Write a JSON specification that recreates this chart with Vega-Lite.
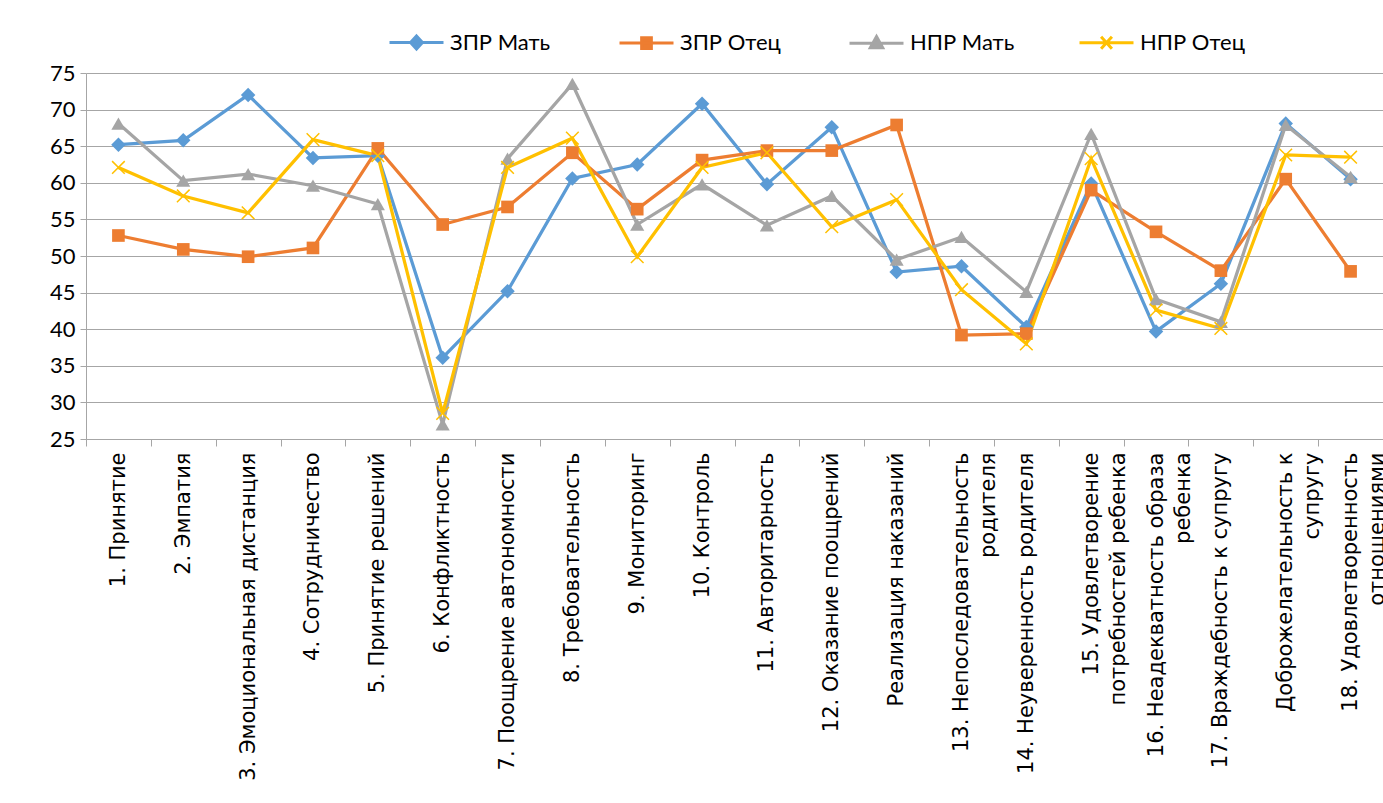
{
  "$schema": "https://vega.github.io/schema/vega-lite/v6.json",
  "width": 1297,
  "height": 366,
  "padding": {"left": 86, "top": 73, "right": 0, "bottom": 364},
  "autosize": {"type": "none"},
  "background": "white",
  "config": {"view": {"stroke": null}},
  "data": {"values": [
    {"cat": "1. Принятие", "series": "ЗПР Мать", "value": 65.2},
    {"cat": "2. Эмпатия", "series": "ЗПР Мать", "value": 65.8},
    {"cat": "3. Эмоциональная дистанция", "series": "ЗПР Мать", "value": 72.0},
    {"cat": "4. Сотрудничество", "series": "ЗПР Мать", "value": 63.4},
    {"cat": "5. Принятие решений", "series": "ЗПР Мать", "value": 63.7},
    {"cat": "6. Конфликтность", "series": "ЗПР Мать", "value": 36.1},
    {"cat": "7. Поощрение автономности", "series": "ЗПР Мать", "value": 45.2},
    {"cat": "8. Требовательность", "series": "ЗПР Мать", "value": 60.6},
    {"cat": "9. Мониторинг", "series": "ЗПР Мать", "value": 62.5},
    {"cat": "10. Контроль", "series": "ЗПР Мать", "value": 70.8},
    {"cat": "11. Авторитарность", "series": "ЗПР Мать", "value": 59.8},
    {"cat": "12. Оказание поощрений", "series": "ЗПР Мать", "value": 67.6},
    {"cat": "Реализация наказаний", "series": "ЗПР Мать", "value": 47.8},
    {"cat": "13. Непоследовательность\nродителя", "series": "ЗПР Мать", "value": 48.6},
    {"cat": "14. Неуверенность родителя", "series": "ЗПР Мать", "value": 40.3},
    {"cat": "15. Удовлетворение\nпотребностей ребенка", "series": "ЗПР Мать", "value": 59.9},
    {"cat": "16. Неадекватность образа\nребенка", "series": "ЗПР Мать", "value": 39.7},
    {"cat": "17. Враждебность к супругу", "series": "ЗПР Мать", "value": 46.2},
    {"cat": "Доброжелательность к\nсупругу", "series": "ЗПР Мать", "value": 68.1},
    {"cat": "18. Удовлетворенность\nотношениями", "series": "ЗПР Мать", "value": 60.5},

    {"cat": "1. Принятие", "series": "ЗПР Отец", "value": 52.8},
    {"cat": "2. Эмпатия", "series": "ЗПР Отец", "value": 50.9},
    {"cat": "3. Эмоциональная дистанция", "series": "ЗПР Отец", "value": 49.9},
    {"cat": "4. Сотрудничество", "series": "ЗПР Отец", "value": 51.1},
    {"cat": "5. Принятие решений", "series": "ЗПР Отец", "value": 64.7},
    {"cat": "6. Конфликтность", "series": "ЗПР Отец", "value": 54.3},
    {"cat": "7. Поощрение автономности", "series": "ЗПР Отец", "value": 56.7},
    {"cat": "8. Требовательность", "series": "ЗПР Отец", "value": 64.1},
    {"cat": "9. Мониторинг", "series": "ЗПР Отец", "value": 56.4},
    {"cat": "10. Контроль", "series": "ЗПР Отец", "value": 63.1},
    {"cat": "11. Авторитарность", "series": "ЗПР Отец", "value": 64.4},
    {"cat": "12. Оказание поощрений", "series": "ЗПР Отец", "value": 64.4},
    {"cat": "Реализация наказаний", "series": "ЗПР Отец", "value": 67.9},
    {"cat": "13. Непоследовательность\nродителя", "series": "ЗПР Отец", "value": 39.2},
    {"cat": "14. Неуверенность родителя", "series": "ЗПР Отец", "value": 39.4},
    {"cat": "15. Удовлетворение\nпотребностей ребенка", "series": "ЗПР Отец", "value": 59.0},
    {"cat": "16. Неадекватность образа\nребенка", "series": "ЗПР Отец", "value": 53.3},
    {"cat": "17. Враждебность к супругу", "series": "ЗПР Отец", "value": 48.0},
    {"cat": "Доброжелательность к\nсупругу", "series": "ЗПР Отец", "value": 60.5},
    {"cat": "18. Удовлетворенность\nотношениями", "series": "ЗПР Отец", "value": 47.9},

    {"cat": "1. Принятие", "series": "НПР Мать", "value": 68.1},
    {"cat": "2. Эмпатия", "series": "НПР Мать", "value": 60.3},
    {"cat": "3. Эмоциональная дистанция", "series": "НПР Мать", "value": 61.2},
    {"cat": "4. Сотрудничество", "series": "НПР Мать", "value": 59.6},
    {"cat": "5. Принятие решений", "series": "НПР Мать", "value": 57.1},
    {"cat": "6. Конфликтность", "series": "НПР Мать", "value": 27.0},
    {"cat": "7. Поощрение автономности", "series": "НПР Мать", "value": 63.3},
    {"cat": "8. Требовательность", "series": "НПР Мать", "value": 73.5},
    {"cat": "9. Мониторинг", "series": "НПР Мать", "value": 54.3},
    {"cat": "10. Контроль", "series": "НПР Мать", "value": 59.8},
    {"cat": "11. Авторитарность", "series": "НПР Мать", "value": 54.2},
    {"cat": "12. Оказание поощрений", "series": "НПР Мать", "value": 58.2},
    {"cat": "Реализация наказаний", "series": "НПР Мать", "value": 49.5},
    {"cat": "13. Непоследовательность\nродителя", "series": "НПР Мать", "value": 52.6},
    {"cat": "14. Неуверенность родителя", "series": "НПР Мать", "value": 45.1},
    {"cat": "15. Удовлетворение\nпотребностей ребенка", "series": "НПР Мать", "value": 66.7},
    {"cat": "16. Неадекватность образа\nребенка", "series": "НПР Мать", "value": 44.1},
    {"cat": "17. Враждебность к супругу", "series": "НПР Мать", "value": 41.0},
    {"cat": "Доброжелательность к\nсупругу", "series": "НПР Мать", "value": 67.9},
    {"cat": "18. Удовлетворенность\nотношениями", "series": "НПР Мать", "value": 60.8},

    {"cat": "1. Принятие", "series": "НПР Отец", "value": 62.1},
    {"cat": "2. Эмпатия", "series": "НПР Отец", "value": 58.2},
    {"cat": "3. Эмоциональная дистанция", "series": "НПР Отец", "value": 55.9},
    {"cat": "4. Сотрудничество", "series": "НПР Отец", "value": 65.9},
    {"cat": "5. Принятие решений", "series": "НПР Отец", "value": 63.7},
    {"cat": "6. Конфликтность", "series": "НПР Отец", "value": 28.5},
    {"cat": "7. Поощрение автономности", "series": "НПР Отец", "value": 62.1},
    {"cat": "8. Требовательность", "series": "НПР Отец", "value": 66.1},
    {"cat": "9. Мониторинг", "series": "НПР Отец", "value": 49.9},
    {"cat": "10. Контроль", "series": "НПР Отец", "value": 62.1},
    {"cat": "11. Авторитарность", "series": "НПР Отец", "value": 64.1},
    {"cat": "12. Оказание поощрений", "series": "НПР Отец", "value": 54.0},
    {"cat": "Реализация наказаний", "series": "НПР Отец", "value": 57.7},
    {"cat": "13. Непоследовательность\nродителя", "series": "НПР Отец", "value": 45.4},
    {"cat": "14. Неуверенность родителя", "series": "НПР Отец", "value": 38.0},
    {"cat": "15. Удовлетворение\nпотребностей ребенка", "series": "НПР Отец", "value": 63.3},
    {"cat": "16. Неадекватность образа\nребенка", "series": "НПР Отец", "value": 42.6},
    {"cat": "17. Враждебность к супругу", "series": "НПР Отец", "value": 40.1},
    {"cat": "Доброжелательность к\nсупругу", "series": "НПР Отец", "value": 63.8},
    {"cat": "18. Удовлетворенность\nотношениями", "series": "НПР Отец", "value": 63.5}
  ]},
  "encoding": {
    "x": {
      "field": "cat", "type": "nominal", "sort": null, "title": null,
      "scale": {"type": "band", "paddingInner": 0, "paddingOuter": 0},
      "axis": {
        "labelAngle": -90, "labelFont": "DejaVu Sans", "labelFontSize": 21,
        "labelColor": "#000000", "labelLimit": 600, "labelOverlap": false,
        "labelExpr": "split(datum.label, '\\n')", "labelLineHeight": 27,
        "labelPadding": 6, "tickBand": "extent", "tickSize": 7,
        "tickColor": "#A6A6A6", "domainColor": "#A6A6A6", "grid": false
      }
    },
    "y": {
      "field": "value", "type": "quantitative", "title": null,
      "scale": {"domain": [25, 75], "nice": false, "zero": false},
      "axis": {
        "values": [25, 30, 35, 40, 45, 50, 55, 60, 65, 70, 75],
        "labelFont": "Lato", "labelFontSize": 22, "labelColor": "#000000",
        "labelPadding": 5, "tickSize": 6, "tickColor": "#A6A6A6",
        "domainColor": "#A6A6A6", "gridColor": "#A6A6A6", "gridWidth": 1
      }
    },
    "color": {
      "field": "series", "type": "nominal",
      "scale": {"domain": ["ЗПР Мать", "ЗПР Отец", "НПР Мать", "НПР Отец"],
                "range": ["#5B9BD5", "#ED7D31", "#A5A5A5", "#FFC000"]},
      "legend": {
        "orient": "none", "legendX": 302, "legendY": -59,
        "direction": "horizontal", "columns": 4, "gridAlign": "all",
        "columnPadding": 57, "padding": 0, "title": null,
        "symbolSize": 2916, "symbolStrokeWidth": 3, "labelOffset": 5,
        "labelFont": "Lato", "labelFontSize": 22, "labelColor": "#000000",
        "labelLimit": 300,
        "encode": {
          "symbols": {
            "update": {
              "shape": {"signal": "datum.value === 'ЗПР Мать' ? 'M-1,0H1M0,-0.24L0.22,0L0,0.24L-0.22,0Z' : datum.value === 'ЗПР Отец' ? 'M-1,0H1M-0.18,-0.2H0.18V0.2H-0.18Z' : datum.value === 'НПР Мать' ? 'M-1,0H1M0,-0.25L0.23,0.17H-0.23Z' : 'M-1,0H1M-0.2,-0.22L0.2,0.22M-0.2,0.22L0.2,-0.22'"},
              "fill": {"signal": "scale('color', datum.value)"},
              "stroke": {"signal": "scale('color', datum.value)"},
              "strokeWidth": {"value": 3},
              "opacity": {"value": 1}
            }
          }
        }
      }
    }
  },
  "layer": [
    {"mark": {"type": "line", "strokeWidth": 3.25}},
    {
      "transform": [{"filter": "datum.series === 'ЗПР Мать'"}],
      "mark": {"type": "point", "shape": "diamond", "filled": true, "size": 210, "opacity": 1}
    },
    {
      "transform": [{"filter": "datum.series === 'ЗПР Отец'"}],
      "mark": {"type": "point", "shape": "square", "filled": true, "size": 160, "opacity": 1}
    },
    {
      "transform": [{"filter": "datum.series === 'НПР Мать'"}],
      "mark": {"type": "point", "shape": "triangle-up", "filled": true, "size": 200, "opacity": 1}
    },
    {
      "transform": [{"filter": "datum.series === 'НПР Отец'"}],
      "mark": {"type": "point", "shape": "M-1,-1L1,1M-1,1L1,-1", "filled": false, "strokeWidth": 1.5, "size": 160, "opacity": 1}
    }
  ]
}
